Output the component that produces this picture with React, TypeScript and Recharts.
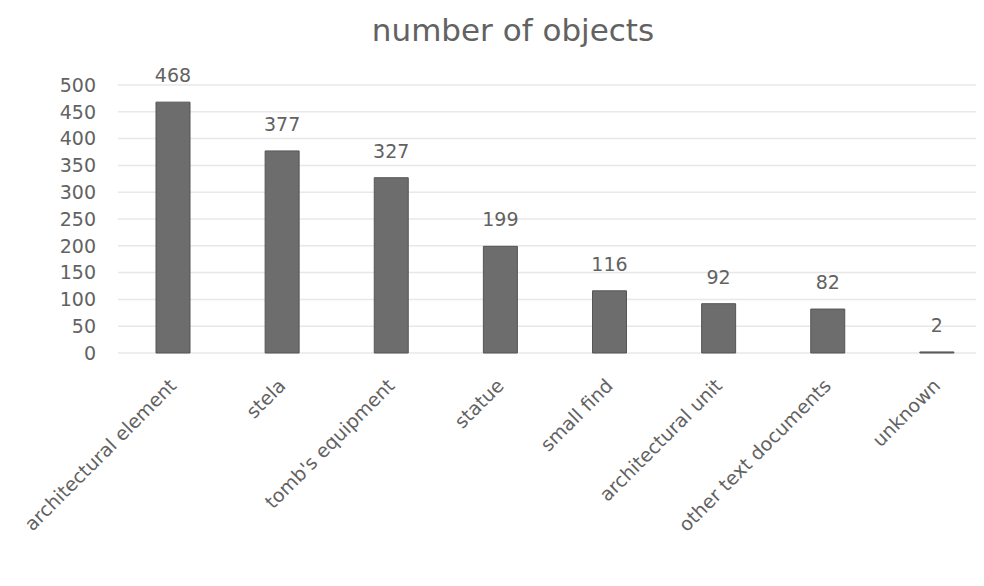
import React from "react";
import { BarChart, Bar, XAxis, YAxis, CartesianGrid, LabelList } from "recharts";

const categories = [
  "architectural element",
  "stela",
  "tomb's equipment",
  "statue",
  "small find",
  "architectural unit",
  "other text documents",
  "unknown",
];
const counts = [468, 377, 327, 199, 116, 92, 82, 2];
const yTicks = [0, 50, 100, 150, 200, 250, 300, 350, 400, 450, 500];
const title = "number of objects";

const data = categories.map((c, i) => ({ category: c, count: counts[i] }));

const FONT = "'DejaVu Sans', sans-serif";
const TEXT = "#626262";

const CategoryTick = (props: any) => {
  const { x, y, payload } = props;
  return (
    <g transform={`translate(${x + 5},${y + 34})`}>
      <text
        transform="rotate(-45)"
        textAnchor="end"
        fontFamily={FONT}
        fontSize={19}
        fill={TEXT}
      >
        {payload.value}
      </text>
    </g>
  );
};

export default function App() {
  return (
    <div style={{ position: "relative", width: 969, height: 578, overflow: "hidden" }}>
      <div
        style={{
          position: "absolute",
          left: 0,
          top: 4,
          width: 1010,
          textAlign: "center",
          fontFamily: FONT,
          fontSize: 31,
          color: TEXT,
          lineHeight: "36px",
        }}
      >
        {title}
      </div>
      <BarChart
        width={983}
        height={578}
        data={data}
        margin={{ top: 77, right: 0, bottom: 0, left: 0 }}
        barCategoryGap={0}
      >
        <CartesianGrid vertical={false} stroke="#e8e8e8" strokeWidth={1.5} />
        <XAxis
          dataKey="category"
          interval={0}
          height={233}
          tickSize={0}
          tickMargin={0}
          axisLine={false}
          tickLine={false}
          tick={<CategoryTick />}
        />
        <YAxis
          domain={[0, 500]}
          ticks={yTicks}
          interval={0}
          width={110}
          tickSize={0}
          tickMargin={22}
          axisLine={false}
          tickLine={false}
          tick={{ fontFamily: FONT, fontSize: 19, fill: TEXT }}
        />
        <Bar
          dataKey="count"
          fill="#6d6d6d"
          stroke="#555555"
          strokeWidth={1}
          barSize={34}
          isAnimationActive={false}
        >
          <LabelList
            dataKey="count"
            position="top"
            offset={20}
            fontFamily={FONT}
            fontSize={19}
            fill={TEXT}
          />
        </Bar>
      </BarChart>
    </div>
  );
}
